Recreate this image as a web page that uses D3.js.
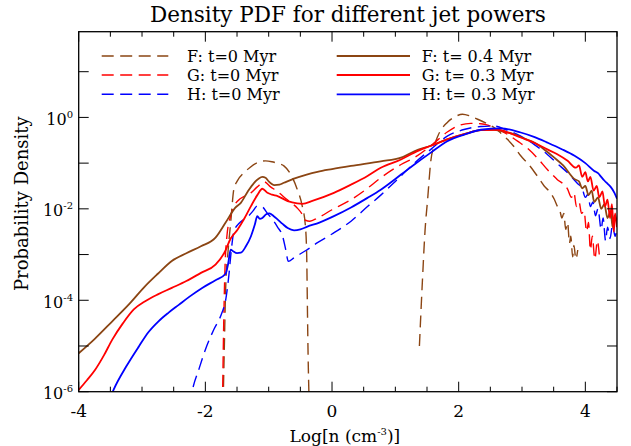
<!DOCTYPE html>
<html>
<head>
<meta charset="utf-8">
<script src="https://cdn.jsdelivr.net/npm/d3@7"></script>
<style>
  body { margin: 0; background: #fff; }
  text { font-family: "DejaVu Serif", "Liberation Serif", serif; fill: #000; }
</style>
</head>
<body>
<div id="chart"></div>
<script>
// values: x = log10 n, p = log10 probability density
var fZeroX1 = [-1.72, -1.70, -1.68, -1.64, -1.60, -1.55, -1.50, -1.39, -1.30, -1.18, -1.05, -0.95, -0.85, -0.76, -0.65, -0.55, -0.47, -0.42, -0.40, -0.39, -0.38, -0.36];
var fZeroP1 = [-6.3, -5.0, -3.77, -2.9, -2.3, -1.57, -1.4, -1.21, -1.1, -0.99, -0.95, -0.97, -1.01, -1.06, -1.25, -1.57, -1.94, -2.38, -3.0, -4.0, -5.0, -6.3];
var fZeroX2 = [1.38, 1.43, 1.47, 1.51, 1.56, 1.62, 1.67, 1.82, 1.95, 2.06, 2.18, 2.30, 2.45, 2.56, 2.67, 2.77, 2.88, 2.98, 3.10, 3.24, 3.35, 3.45, 3.51, 3.56, 3.60, 3.63, 3.66, 3.69, 3.72, 3.75, 3.77, 3.80, 3.82, 3.85, 3.88];
var fZeroP2 = [-5.0, -3.5, -2.45, -1.79, -0.95, -0.6, -0.41, -0.11, 0.02, 0.07, 0.03, -0.04, -0.14, -0.22, -0.35, -0.48, -0.65, -0.84, -1.02, -1.28, -1.5, -1.65, -1.79, -1.95, -2.05, -2.2, -2.1, -2.45, -2.3, -2.75, -2.6, -3.05, -2.8, -3.1, -2.9];

var gZeroX = [-1.73, -1.71, -1.69, -1.66, -1.60, -1.53, -1.45, -1.35, -1.28, -1.18, -1.07, -0.97, -0.86, -0.76, -0.65, -0.55, -0.47, -0.42, -0.35, -0.23, 0.0, 0.3, 0.56, 0.77, 1.09, 1.3, 1.56, 1.82, 2.0, 2.19, 2.35, 2.46, 2.6, 2.77, 2.93, 3.09, 3.25, 3.4, 3.55, 3.72, 3.78, 3.82, 3.86, 3.90, 3.94, 3.98, 4.02, 4.05, 4.08, 4.11, 4.15, 4.19, 4.22];
var gZeroP = [-6.3, -4.5, -3.3, -2.6, -2.15, -1.9, -1.78, -1.7, -1.65, -1.52, -1.41, -1.52, -1.62, -1.74, -1.86, -1.98, -2.12, -2.25, -2.27, -2.2, -2.02, -1.8, -1.55, -1.32, -1.03, -0.88, -0.62, -0.32, -0.18, -0.13, -0.14, -0.17, -0.25, -0.37, -0.52, -0.68, -0.9, -1.14, -1.35, -1.57, -1.75, -1.65, -1.95, -1.85, -2.1, -2.05, -2.5, -2.3, -2.9, -2.6, -3.1, -2.7, -3.0];

var hZeroX = [-2.25, -2.21, -2.10, -2.00, -1.87, -1.74, -1.68, -1.63, -1.59, -1.55, -1.47, -1.39, -1.32, -1.25, -1.18, -1.10, -1.02, -0.94, -0.86, -0.78, -0.73, -0.69, -0.60, -0.40, -0.23, 0.0, 0.3, 0.56, 0.77, 1.0, 1.09, 1.3, 1.56, 1.82, 2.1, 2.35, 2.56, 2.75, 2.98, 3.2, 3.4, 3.55, 3.72, 3.88, 3.95, 4.0, 4.04, 4.08, 4.12, 4.16, 4.2, 4.25, 4.28, 4.32, 4.35, 4.39, 4.43, 4.47, 4.5];
var hZeroP = [-6.3, -6.0, -5.5, -5.08, -4.65, -4.28, -4.0, -3.47, -2.9, -2.5, -2.32, -2.23, -2.16, -2.05, -1.94, -1.96, -2.1, -2.23, -2.4, -2.6, -2.9, -3.15, -3.07, -2.9, -2.74, -2.55, -2.27, -1.95, -1.7, -1.4, -1.28, -1.0, -0.7, -0.41, -0.26, -0.2, -0.19, -0.27, -0.41, -0.6, -0.81, -1.0, -1.21, -1.45, -1.55, -1.75, -1.68, -1.95, -1.85, -2.15, -2.0, -2.45, -2.2, -2.7, -2.4, -2.65, -2.35, -2.6, -2.4];

var fLateX = [-4.0, -3.75, -3.47, -3.2, -2.95, -2.75, -2.53, -2.3, -2.07, -1.84, -1.68, -1.53, -1.44, -1.33, -1.23, -1.16, -1.10, -1.05, -1.00, -0.91, -0.83, -0.76, -0.6, -0.4, -0.23, 0.0, 0.3, 0.77, 1.09, 1.3, 1.56, 1.82, 2.1, 2.35, 2.56, 2.75, 2.88, 3.05, 3.19, 3.35, 3.51, 3.65, 3.83, 3.9, 3.95, 4.0, 4.05, 4.1, 4.14, 4.2, 4.25, 4.3, 4.35, 4.4, 4.43, 4.46, 4.5];
var fLateP = [-5.16, -4.85, -4.46, -4.08, -3.69, -3.42, -3.14, -2.97, -2.82, -2.63, -2.3, -1.98, -1.87, -1.62, -1.43, -1.34, -1.3, -1.32, -1.4, -1.48, -1.47, -1.43, -1.34, -1.25, -1.19, -1.13, -1.06, -0.96, -0.88, -0.74, -0.62, -0.48, -0.36, -0.28, -0.27, -0.32, -0.37, -0.47, -0.55, -0.7, -0.88, -1.05, -1.35, -1.4, -1.55, -1.5, -1.7, -1.6, -1.85, -1.75, -2.0, -1.9, -2.2, -2.05, -2.4, -2.15, -2.3];

var gLateX = [-4.0, -3.87, -3.74, -3.6, -3.47, -3.3, -3.13, -2.95, -2.75, -2.53, -2.3, -2.07, -1.84, -1.7, -1.6, -1.49, -1.38, -1.28, -1.18, -1.10, -1.02, -0.95, -0.86, -0.7, -0.55, -0.47, -0.3, 0.03, 0.3, 0.56, 0.77, 1.09, 1.3, 1.56, 1.82, 2.1, 2.35, 2.61, 2.8, 2.98, 3.2, 3.4, 3.55, 3.72, 3.85, 3.9, 3.95, 4.0, 4.04, 4.08, 4.13, 4.18, 4.22, 4.27, 4.31, 4.35, 4.39, 4.42, 4.45, 4.47, 4.5];
var gLateP = [-5.96, -5.75, -5.52, -5.2, -4.86, -4.5, -4.2, -4.02, -3.87, -3.73, -3.58, -3.4, -3.22, -2.96, -2.65, -2.45, -2.2, -1.94, -1.7, -1.56, -1.65, -1.69, -1.72, -1.83, -1.88, -1.89, -1.82, -1.65, -1.47, -1.28, -1.1, -0.92, -0.77, -0.62, -0.48, -0.36, -0.28, -0.27, -0.34, -0.44, -0.56, -0.7, -0.8, -0.95, -1.1, -1.05, -1.3, -1.2, -1.4, -1.3, -1.6, -1.5, -1.75, -1.62, -1.95, -1.8, -2.2, -1.9, -2.5, -2.1, -2.4];

var hLateX = [-3.6, -3.45, -3.25, -3.05, -2.9, -2.74, -2.58, -2.42, -2.25, -2.05, -1.84, -1.68, -1.64, -1.6, -1.56, -1.5, -1.44, -1.36, -1.28, -1.22, -1.18, -1.14, -1.1, -1.04, -0.99, -0.92, -0.86, -0.78, -0.7, -0.6, -0.5, -0.39, -0.2, 0.03, 0.3, 0.56, 0.77, 1.09, 1.3, 1.56, 1.82, 2.1, 2.35, 2.67, 2.98, 3.2, 3.4, 3.62, 3.83, 4.0, 4.14, 4.2, 4.25, 4.3, 4.35, 4.4, 4.46, 4.5];
var hLateP = [-6.5, -5.96, -5.45, -5.01, -4.7, -4.46, -4.27, -4.1, -3.92, -3.73, -3.56, -3.42, -3.2, -2.89, -2.93, -2.97, -2.96, -2.82, -2.6, -2.35, -2.16, -2.22, -2.2, -2.12, -2.1, -2.16, -2.23, -2.33, -2.42, -2.47, -2.45, -2.39, -2.3, -2.16, -1.97, -1.76, -1.58, -1.25, -1.03, -0.77, -0.52, -0.37, -0.27, -0.24, -0.33, -0.43, -0.55, -0.69, -0.84, -1.0, -1.17, -1.22, -1.3, -1.38, -1.45, -1.52, -1.65, -1.78];

var legendLeft = ["F: t=0 Myr", "G: t=0 Myr", "H: t=0 Myr"];
var legendRight = ["F: t= 0.4 Myr", "G: t= 0.3 Myr", "H: t= 0.3 Myr"];
var colors = ["#8B4513", "#FF0000", "#0000FF"];
var xTicks = [-4, -2, 0, 2, 4];
var yLabelExps = [-6, -4, -2, 0];

var width = 631, height = 446;
var plotL = 78.7, plotR = 617, plotT = 31.7, plotB = 391.7;

var svg = d3.select("#chart").append("svg")
  .attr("width", width)
  .attr("height", height);

var x = d3.scaleLinear().domain([-4, 4.5]).range([plotL, plotR]);
var y = d3.scaleLog().domain([1e-6, Math.pow(10, 1.875)]).range([plotB, plotT]);

svg.append("clipPath").attr("id", "clip")
  .append("rect").attr("x", plotL).attr("y", plotT)
  .attr("width", plotR - plotL).attr("height", plotB - plotT);

function pts(xs, ps) {
  return xs.map(function(v, i) { return [v, Math.pow(10, ps[i])]; });
}

var line = d3.line()
  .x(function(d) { return x(d[0]); })
  .y(function(d) { return y(d[1]); })
  .curve(d3.curveMonotoneX);

var series = [
  { d: pts(fZeroX1, fZeroP1), c: colors[0], dash: true },
  { d: pts(fZeroX2, fZeroP2), c: colors[0], dash: true },
  { d: pts(gZeroX, gZeroP), c: colors[1], dash: true },
  { d: pts(hZeroX, hZeroP), c: colors[2], dash: true },
  { d: pts(fLateX, fLateP), c: colors[0], dash: false },
  { d: pts(gLateX, gLateP), c: colors[1], dash: false },
  { d: pts(hLateX, hLateP), c: colors[2], dash: false }
];

var plot = svg.append("g").attr("clip-path", "url(#clip)");
series.forEach(function(s) {
  plot.append("path")
    .attr("d", line(s.d))
    .attr("fill", "none")
    .attr("stroke", s.c)
    .attr("stroke-width", s.dash ? 1.4 : 1.8)
    .attr("stroke-dasharray", s.dash ? "12,6.5" : null);
});

// frame and ticks
svg.append("rect")
  .attr("x", plotL).attr("y", plotT)
  .attr("width", plotR - plotL).attr("height", plotB - plotT)
  .attr("fill", "none").attr("stroke", "#000").attr("stroke-width", 1.3);

var minorX = d3.range(-4, 4.51, 0.5);
minorX.forEach(function(v) {
  var len = (Math.abs(v % 2) < 1e-9) ? 10 : 5;
  svg.append("line").attr("x1", x(v)).attr("x2", x(v))
    .attr("y1", plotB).attr("y2", plotB - len)
    .attr("stroke", "#000").attr("stroke-width", 1);
  svg.append("line").attr("x1", x(v)).attr("x2", x(v))
    .attr("y1", plotT).attr("y2", plotT + len)
    .attr("stroke", "#000").attr("stroke-width", 1);
});

d3.range(-6, 2).forEach(function(e) {
  var yy = y(Math.pow(10, e));
  svg.append("line").attr("x1", plotL).attr("x2", plotL + 10)
    .attr("y1", yy).attr("y2", yy).attr("stroke", "#000").attr("stroke-width", 1);
  svg.append("line").attr("x1", plotR).attr("x2", plotR - 10)
    .attr("y1", yy).attr("y2", yy).attr("stroke", "#000").attr("stroke-width", 1);
});

xTicks.forEach(function(v) {
  svg.append("text")
    .attr("x", x(v)).attr("y", 417)
    .attr("text-anchor", "middle")
    .attr("font-size", 17)
    .text(v);
});

yLabelExps.forEach(function(e) {
  var t = svg.append("text")
    .attr("x", 73).attr("y", y(Math.pow(10, e)) + 7.5)
    .attr("text-anchor", "end")
    .attr("font-size", 16);
  t.append("tspan").text("10");
  t.append("tspan").attr("dy", -7).attr("font-size", 10).text(e);
});

// titles
svg.append("text")
  .attr("x", (plotL + plotR) / 2).attr("y", 22)
  .attr("text-anchor", "middle")
  .attr("font-size", 21.5)
  .text("Density PDF for different jet powers");

var xt = svg.append("text")
  .attr("x", (plotL + plotR) / 2 - 3).attr("y", 442)
  .attr("text-anchor", "middle")
  .attr("font-size", 17);
xt.append("tspan").text("Log[n (cm");
xt.append("tspan").attr("dy", -7).attr("font-size", 10).text("-3");
xt.append("tspan").attr("dy", 7).text(")]");

svg.append("text")
  .attr("transform", "translate(28," + ((plotT + plotB) / 2 - 8) + ") rotate(-90)")
  .attr("text-anchor", "middle")
  .attr("font-size", 18)
  .text("Probability Density");

// legend
var rows = [56, 75, 94.3];
legendLeft.forEach(function(l, i) {
  svg.append("line").attr("x1", 101.7).attr("x2", 168.3)
    .attr("y1", rows[i]).attr("y2", rows[i])
    .attr("stroke", colors[i]).attr("stroke-width", 1.4)
    .attr("stroke-dasharray", "12,6.5");
  svg.append("text").attr("x", 187).attr("y", rows[i] + 6)
    .attr("font-size", 16).text(l);
});
legendRight.forEach(function(l, i) {
  svg.append("line").attr("x1", 336.7).attr("x2", 410)
    .attr("y1", rows[i]).attr("y2", rows[i])
    .attr("stroke", colors[i]).attr("stroke-width", 1.8);
  svg.append("text").attr("x", 421.7).attr("y", rows[i] + 6)
    .attr("font-size", 16).text(l);
});
</script>
</body>
</html>
